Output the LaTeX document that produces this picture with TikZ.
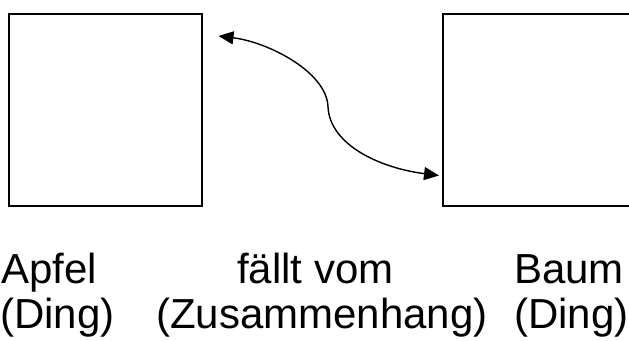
\documentclass[tikz,border=0pt]{standalone}
\usepackage{fontspec}
\setmainfont{Liberation Sans}
\usetikzlibrary{arrows.meta}
\begin{document}
\begin{tikzpicture}[x=1pt,y=-1pt,
  thing/.style={draw=black,line width=1.5pt},
  lbl/.style={inner sep=0pt,anchor=base west,font=\fontsize{42}{48}\selectfont},
  rel/.style={line width=1.4pt,{Triangle[length=15pt,width=13pt]}-{Triangle[length=15pt,width=13pt]}}]
\useasboundingbox (0,0) rectangle (629,340);
\clip (0,0) rectangle (629,340);
\node[thing,minimum width=193pt,minimum height=192pt,anchor=north west,inner sep=0pt] (apfel) at (8,13) {};
\node[thing,minimum width=260pt,minimum height=192pt,anchor=north west,inner sep=0pt] (baum) at (442,13) {};
\coordinate (a1) at ([shift={(16,23)}]apfel.north east);
\coordinate (a2) at ([shift={(-3,-31)}]baum.south west);
\draw[rel] (a1) .. controls (268,42) and (327,72) .. (328,107)
  .. controls (330,145) and (380,168) .. (a2);
\node[lbl] (t1) at (1,283) {Apfel};
\node[lbl] (t2) at (0,328) {(Ding)};
\node[lbl] (t3) at (237,283) {fällt vom};
\node[lbl] (t4) at (156,328) {(Zusammenhang)};
\node[lbl] (t5) at (514,283) {Baum};
\node[lbl] (t6) at (514,328) {(Ding)};
\end{tikzpicture}
\end{document}
